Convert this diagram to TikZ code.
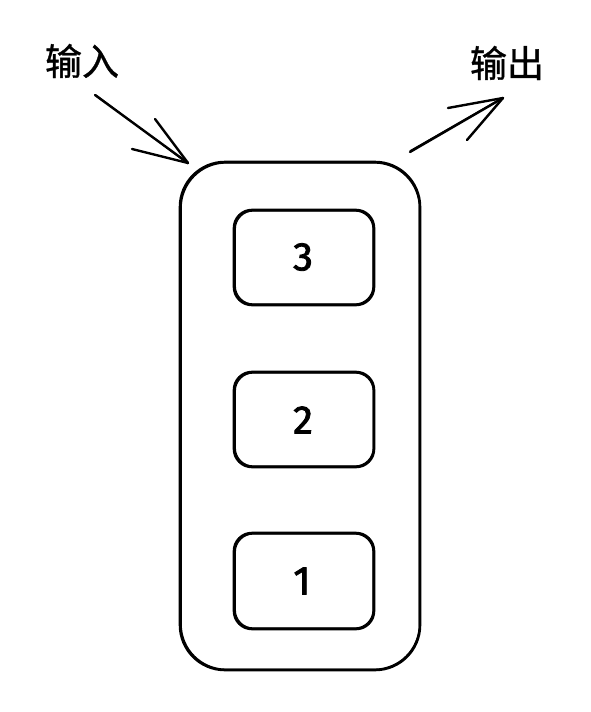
\documentclass[tikz,border=0pt]{standalone}
\usepackage{fontspec}
\newfontfamily\cjk{Noto Sans CJK SC}[FakeBold=0.9]
\newfontfamily\digitfont{Fira Sans}[FakeBold=2]
\begin{document}
\begin{tikzpicture}[x=1pt,y=-1pt,
  sketch/.style={draw=black,line width=2.6pt,line cap=round,line join=round},
  thin/.style={line width=1.2pt},
  outerbox/.style={sketch,rounded corners=45pt},
  innerbox/.style={sketch,rounded corners=18pt},
  label/.style={font=\cjk\fontsize{37}{37}\selectfont,inner sep=0pt},
  digit/.style={font=\digitfont\fontsize{40}{40}\selectfont,inner sep=0pt},
  arrowline/.style={sketch,line width=2.4pt}]
\useasboundingbox[fill=white] (0,0) rectangle (590,712);
% outer container
\draw[outerbox] (180,162) rectangle (420,670);
\draw[outerbox,thin] (181.2,163) rectangle (419.3,669.2);
% inner boxes
\draw[innerbox] (234,210) rectangle (374,305);
\draw[innerbox,thin] (235.3,211) rectangle (373,304);
\draw[innerbox] (234,372) rectangle (374,467);
\draw[innerbox,thin] (235.3,373) rectangle (373.2,466);
\draw[innerbox] (234,533) rectangle (374,629);
\draw[innerbox,thin] (235.3,534) rectangle (373,628);
\node[digit] (n3) at (303,257) {3};
\node[digit] (n2) at (303,420) {2};
\node[digit] (n1) at (302,581) {1};
% labels
\node[label] (in) at (82,61) {输入};
\node[label] (out) at (507,63) {输出};
% input arrow
\coordinate (inS) at (95,95);
\coordinate (inT) at (188,163);
\coordinate (inB1) at (155,119);
\coordinate (inB2) at (132,149);
\draw[arrowline] (inS) -- (inT);
\draw[arrowline,thin] ([xshift=1pt]inS) -- ([yshift=-0.8pt]inT);
\draw[arrowline] (inB1) -- (inT);
\draw[arrowline] (inB2) -- (inT);
% output arrow
\coordinate (outS) at (410,152);
\coordinate (outT) at (503,98);
\coordinate (outB1) at (448,108);
\coordinate (outB2) at (467,140);
\draw[arrowline] (outS) -- (outT);
\draw[arrowline,thin] ([yshift=1.2pt]outS) -- ([yshift=0.6pt]outT);
\draw[arrowline] (outB1) -- (outT);
\draw[arrowline] (outB2) -- (outT);
\end{tikzpicture}
\end{document}
